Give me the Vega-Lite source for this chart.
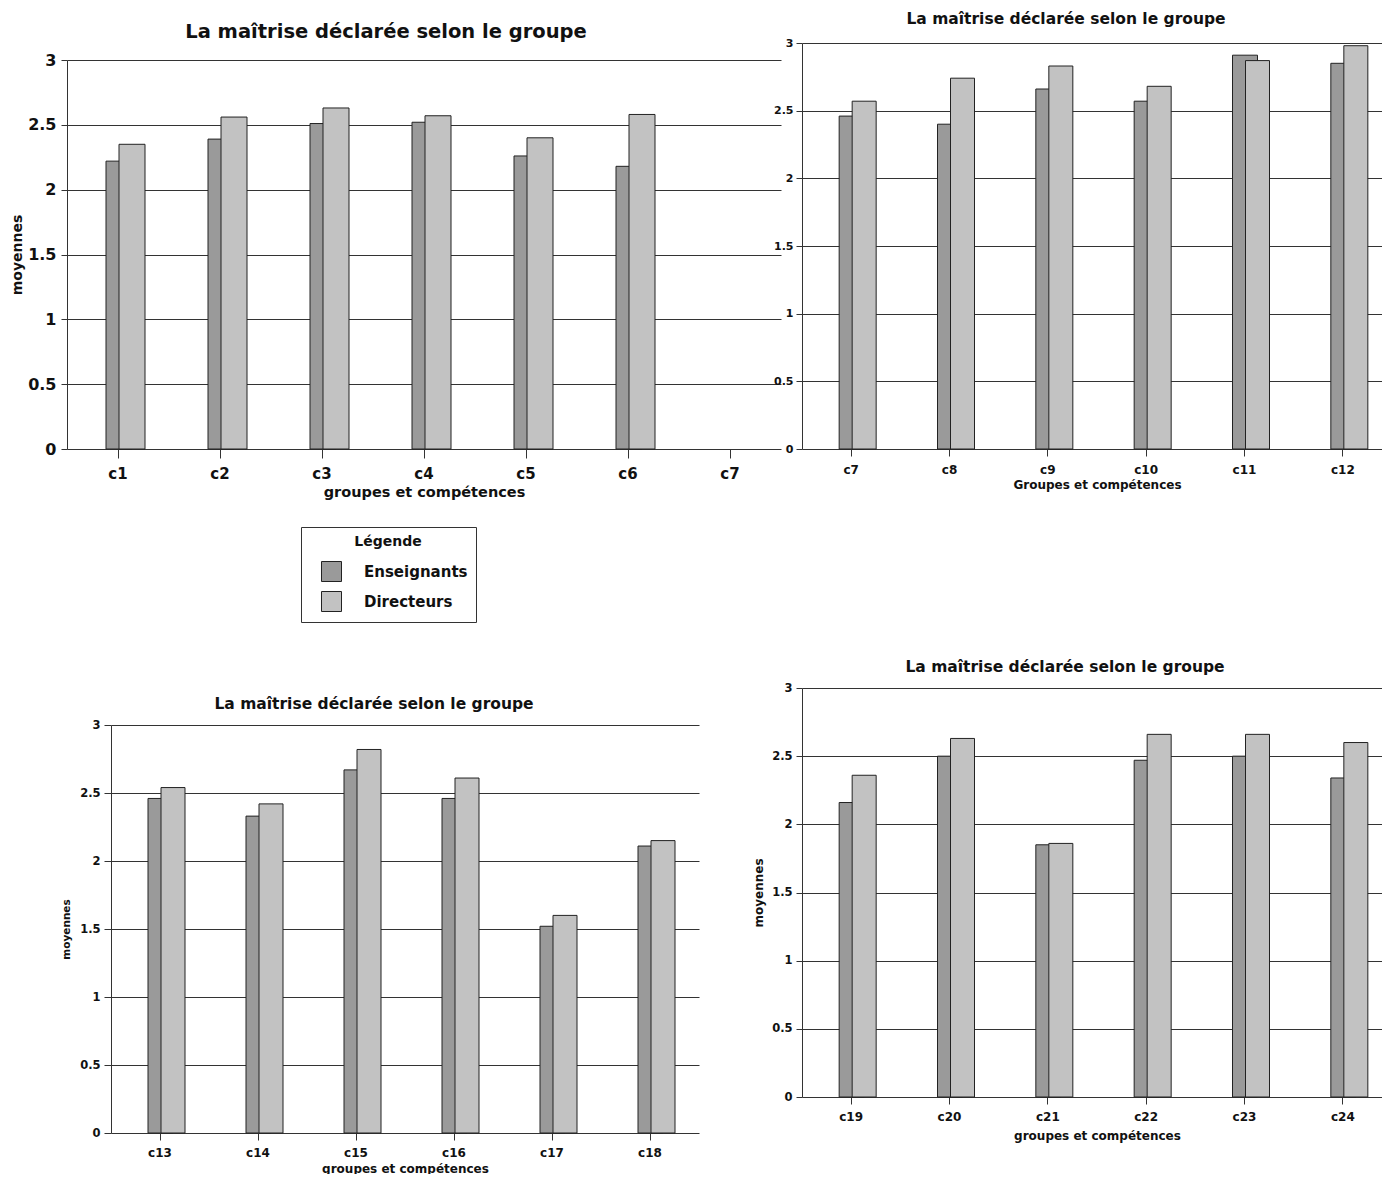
{
  "$schema": "https://vega.github.io/schema/vega-lite/v6.json",
  "background": "white",
  "padding": {"left": 10, "top": 11, "right": 0, "bottom": 0},
  "config": {
    "font": "DejaVu Sans",
    "view": {"stroke": null},
    "axis": {
      "labelFontWeight": "bold", "titleFontWeight": "bold",
      "labelColor": "#111", "titleColor": "#111",
      "domainColor": "#333", "tickColor": "#333",
      "gridColor": "#333333", "gridOpacity": 1, "gridWidth": 1,
      "domainWidth": 1, "tickWidth": 1
    },
    "title": {"fontWeight": "bold", "color": "#111", "anchor": "middle", "font": "DejaVu Sans"}
  },
  "datasets": {
    "moyennes": [
      {"g": 1, "competence": "c1", "groupe": "Enseignants", "moyenne": 2.22},
      {"g": 1, "competence": "c1", "groupe": "Directeurs", "moyenne": 2.35},
      {"g": 1, "competence": "c2", "groupe": "Enseignants", "moyenne": 2.39},
      {"g": 1, "competence": "c2", "groupe": "Directeurs", "moyenne": 2.56},
      {"g": 1, "competence": "c3", "groupe": "Enseignants", "moyenne": 2.51},
      {"g": 1, "competence": "c3", "groupe": "Directeurs", "moyenne": 2.63},
      {"g": 1, "competence": "c4", "groupe": "Enseignants", "moyenne": 2.52},
      {"g": 1, "competence": "c4", "groupe": "Directeurs", "moyenne": 2.57},
      {"g": 1, "competence": "c5", "groupe": "Enseignants", "moyenne": 2.26},
      {"g": 1, "competence": "c5", "groupe": "Directeurs", "moyenne": 2.40},
      {"g": 1, "competence": "c6", "groupe": "Enseignants", "moyenne": 2.18},
      {"g": 1, "competence": "c6", "groupe": "Directeurs", "moyenne": 2.58},
      {"g": 2, "competence": "c7", "groupe": "Enseignants", "moyenne": 2.46},
      {"g": 2, "competence": "c7", "groupe": "Directeurs", "moyenne": 2.57},
      {"g": 2, "competence": "c8", "groupe": "Enseignants", "moyenne": 2.40},
      {"g": 2, "competence": "c8", "groupe": "Directeurs", "moyenne": 2.74},
      {"g": 2, "competence": "c9", "groupe": "Enseignants", "moyenne": 2.66},
      {"g": 2, "competence": "c9", "groupe": "Directeurs", "moyenne": 2.83},
      {"g": 2, "competence": "c10", "groupe": "Enseignants", "moyenne": 2.57},
      {"g": 2, "competence": "c10", "groupe": "Directeurs", "moyenne": 2.68},
      {"g": 2, "competence": "c11", "groupe": "Enseignants", "moyenne": 2.91},
      {"g": 2, "competence": "c11", "groupe": "Directeurs", "moyenne": 2.87},
      {"g": 2, "competence": "c12", "groupe": "Enseignants", "moyenne": 2.85},
      {"g": 2, "competence": "c12", "groupe": "Directeurs", "moyenne": 2.98},
      {"g": 3, "competence": "c13", "groupe": "Enseignants", "moyenne": 2.46},
      {"g": 3, "competence": "c13", "groupe": "Directeurs", "moyenne": 2.54},
      {"g": 3, "competence": "c14", "groupe": "Enseignants", "moyenne": 2.33},
      {"g": 3, "competence": "c14", "groupe": "Directeurs", "moyenne": 2.42},
      {"g": 3, "competence": "c15", "groupe": "Enseignants", "moyenne": 2.67},
      {"g": 3, "competence": "c15", "groupe": "Directeurs", "moyenne": 2.82},
      {"g": 3, "competence": "c16", "groupe": "Enseignants", "moyenne": 2.46},
      {"g": 3, "competence": "c16", "groupe": "Directeurs", "moyenne": 2.61},
      {"g": 3, "competence": "c17", "groupe": "Enseignants", "moyenne": 1.52},
      {"g": 3, "competence": "c17", "groupe": "Directeurs", "moyenne": 1.60},
      {"g": 3, "competence": "c18", "groupe": "Enseignants", "moyenne": 2.11},
      {"g": 3, "competence": "c18", "groupe": "Directeurs", "moyenne": 2.15},
      {"g": 4, "competence": "c19", "groupe": "Enseignants", "moyenne": 2.16},
      {"g": 4, "competence": "c19", "groupe": "Directeurs", "moyenne": 2.36},
      {"g": 4, "competence": "c20", "groupe": "Enseignants", "moyenne": 2.50},
      {"g": 4, "competence": "c20", "groupe": "Directeurs", "moyenne": 2.63},
      {"g": 4, "competence": "c21", "groupe": "Enseignants", "moyenne": 1.85},
      {"g": 4, "competence": "c21", "groupe": "Directeurs", "moyenne": 1.86},
      {"g": 4, "competence": "c22", "groupe": "Enseignants", "moyenne": 2.47},
      {"g": 4, "competence": "c22", "groupe": "Directeurs", "moyenne": 2.66},
      {"g": 4, "competence": "c23", "groupe": "Enseignants", "moyenne": 2.50},
      {"g": 4, "competence": "c23", "groupe": "Directeurs", "moyenne": 2.66},
      {"g": 4, "competence": "c24", "groupe": "Enseignants", "moyenne": 2.34},
      {"g": 4, "competence": "c24", "groupe": "Directeurs", "moyenne": 2.60}
    ]
  },
  "resolve": {"scale": {"color": "independent"}, "legend": {"color": "independent"}},
  "columns": 2,
  "bounds": "flush",
  "align": "each",
  "spacing": {"row": 239, "column": 21},
  "concat": [
    {
      "width": 714, "height": 406,
      "title": {"text": "La maîtrise déclarée selon le groupe", "fontSize": 19.5, "offset": 1, "dx": -38},
      "data": {"name": "moyennes"},
      "transform": [{"filter": "datum.g == 1"}],
      "encoding": {
        "x": {"field": "competence", "type": "nominal",
          "scale": {"domain": ["c1", "c2", "c3", "c4", "c5", "c6", "c7"], "paddingInner": 0, "paddingOuter": 0},
          "axis": {"title": "groupes et compétences", "labelAngle": 0, "labelFontSize": 15, "titleFontSize": 14.5, "tickSize": 9, "labelPadding": 8, "titlePadding": 4, "domain": false}},
        "y": {"field": "moyenne", "type": "quantitative",
          "scale": {"domain": [0, 3], "nice": false, "range": [406, 17]},
          "axis": {"values": [0, 0.5, 1, 1.5, 2, 2.5, 3], "format": "~g", "title": "moyennes", "grid": true, "labelFontSize": 16, "titleFontSize": 14, "tickSize": 6, "labelPadding": 5, "titlePadding": 3}},
        "color": {"field": "groupe", "type": "nominal",
          "scale": {"domain": ["Enseignants", "Directeurs"], "range": ["#9a9a9a", "#c2c2c2"]},
          "legend": {"title": "Légende", "orient": "none", "legendX": 234, "legendY": 484, "direction": "vertical",
            "strokeColor": "#333", "padding": 8, "symbolOffset": 12,
            "titleFontSize": 14, "titleFontWeight": "bold", "titleAnchor": "middle", "titlePadding": 12, "titleColor": "#111",
            "labelFontSize": 15, "labelFontWeight": "bold", "labelOffset": 22, "labelColor": "#111",
            "symbolType": "square", "symbolSize": 400, "symbolStrokeColor": "#222", "symbolStrokeWidth": 1, "rowPadding": 5}}
      },
      "layer": [
        {"transform": [{"filter": "datum.groupe == 'Enseignants'"}],
         "mark": {"type": "bar", "width": 26, "xOffset": 1, "stroke": "#222", "strokeWidth": 1}},
        {"transform": [{"filter": "datum.groupe == 'Directeurs'"}],
         "mark": {"type": "bar", "width": 26, "xOffset": 14, "stroke": "#222", "strokeWidth": 1}}
      ]
    },
    {
      "width": 590, "height": 406,
      "title": {"text": "La maîtrise déclarée selon le groupe", "fontSize": 15.5, "offset": 10, "dx": -31},
      "data": {"name": "moyennes"},
      "transform": [{"filter": "datum.g == 2"}],
      "encoding": {
        "x": {"field": "competence", "type": "nominal",
          "scale": {"domain": ["c7", "c8", "c9", "c10", "c11", "c12"], "paddingInner": 0, "paddingOuter": 0},
          "axis": {"title": "Groupes et compétences", "labelAngle": 0, "labelFontSize": 12, "titleFontSize": 12, "tickSize": 7, "labelPadding": 8, "titlePadding": 4, "domain": false}},
        "y": {"field": "moyenne", "type": "quantitative",
          "scale": {"domain": [0, 3], "nice": false},
          "axis": {"values": [0, 0.5, 1, 1.5, 2, 2.5, 3], "format": "~g", "title": null, "grid": true, "labelFontSize": 11, "tickSize": 6, "labelPadding": 3}}
      },
      "layer": [
        {"transform": [{"filter": "datum.groupe == 'Enseignants'"}],
         "mark": {"type": "bar", "width": 25, "xOffset": 0.5, "fill": "#9a9a9a", "stroke": "#222", "strokeWidth": 1}},
        {"transform": [{"filter": "datum.groupe == 'Directeurs'"}],
         "mark": {"type": "bar", "width": 24, "xOffset": 13, "fill": "#c2c2c2", "stroke": "#222", "strokeWidth": 1}}
      ]
    },
    {
      "width": 632, "height": 445,
      "title": {"text": "La maîtrise déclarée selon le groupe", "fontSize": 15.5, "offset": -24, "dx": -9},
      "data": {"name": "moyennes"},
      "transform": [{"filter": "datum.g == 3"}],
      "encoding": {
        "x": {"field": "competence", "type": "nominal",
          "scale": {"domain": ["c13", "c14", "c15", "c16", "c17", "c18"], "range": [44, 632], "paddingInner": 0, "paddingOuter": 0},
          "axis": {"title": "groupes et compétences", "labelAngle": 0, "labelFontSize": 12, "titleFontSize": 12, "tickSize": 7, "labelPadding": 7, "titlePadding": 5, "domain": false}},
        "y": {"field": "moyenne", "type": "quantitative",
          "scale": {"domain": [0, 3], "nice": false, "range": [445, 37]},
          "axis": {"values": [0, 0.5, 1, 1.5, 2, 2.5, 3], "format": "~g", "title": "moyennes", "offset": -44, "grid": true, "labelFontSize": 11.5, "titleFontSize": 10.5, "tickSize": 7, "labelPadding": 4, "titlePadding": 8}}
      },
      "layer": [
        {"transform": [{"filter": "datum.groupe == 'Enseignants'"}],
         "mark": {"type": "bar", "width": 25, "xOffset": 0.5, "fill": "#9a9a9a", "stroke": "#222", "strokeWidth": 1}},
        {"transform": [{"filter": "datum.groupe == 'Directeurs'"}],
         "mark": {"type": "bar", "width": 24, "xOffset": 13, "fill": "#c2c2c2", "stroke": "#222", "strokeWidth": 1}}
      ]
    },
    {
      "width": 590, "height": 409,
      "title": {"text": "La maîtrise déclarée selon le groupe", "fontSize": 15.5, "offset": 7, "dx": -32},
      "data": {"name": "moyennes"},
      "transform": [{"filter": "datum.g == 4"}],
      "encoding": {
        "x": {"field": "competence", "type": "nominal",
          "scale": {"domain": ["c19", "c20", "c21", "c22", "c23", "c24"], "paddingInner": 0, "paddingOuter": 0},
          "axis": {"title": "groupes et compétences", "labelAngle": 0, "labelFontSize": 12, "titleFontSize": 12, "tickSize": 7, "labelPadding": 7, "titlePadding": 8, "domain": false}},
        "y": {"field": "moyenne", "type": "quantitative",
          "scale": {"domain": [0, 3], "nice": false},
          "axis": {"values": [0, 0.5, 1, 1.5, 2, 2.5, 3], "format": "~g", "title": "moyennes", "grid": true, "labelFontSize": 11.5, "titleFontSize": 12, "tickSize": 6, "labelPadding": 4, "titlePadding": 6}}
      },
      "layer": [
        {"transform": [{"filter": "datum.groupe == 'Enseignants'"}],
         "mark": {"type": "bar", "width": 25, "xOffset": 0.5, "fill": "#9a9a9a", "stroke": "#222", "strokeWidth": 1}},
        {"transform": [{"filter": "datum.groupe == 'Directeurs'"}],
         "mark": {"type": "bar", "width": 24, "xOffset": 13, "fill": "#c2c2c2", "stroke": "#222", "strokeWidth": 1}}
      ]
    }
  ]
}
